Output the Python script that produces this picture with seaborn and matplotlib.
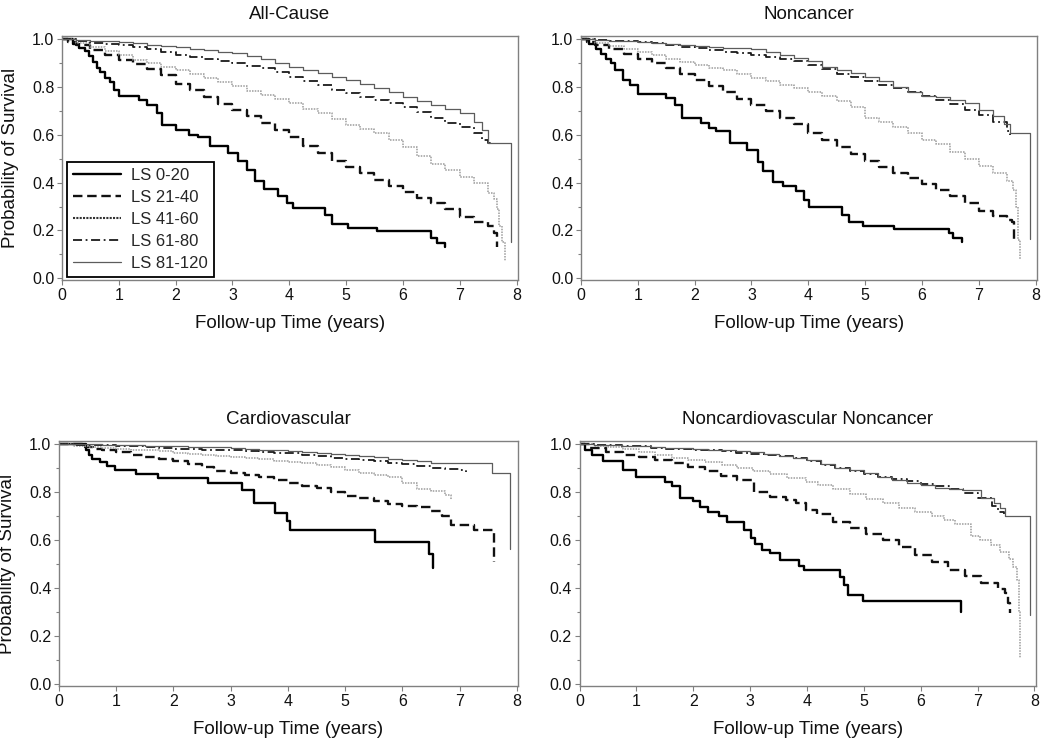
import matplotlib
matplotlib.use("Agg")
import matplotlib.pyplot as plt
import seaborn as sns
import pandas as pd
from matplotlib.lines import Line2D

# ---------------- data ----------------
groups = ["LS 0-20", "LS 21-40", "LS 41-60", "LS 61-80", "LS 81-120"]
panel_titles = ["All-Cause", "Noncancer", "Cardiovascular", "Noncardiovascular Noncancer"]
x_ticks = [0, 1, 2, 3, 4, 5, 6, 7, 8]
y_ticks = [0.0, 0.2, 0.4, 0.6, 0.8, 1.0]
y_tick_labels = ["0.0", "0.2", "0.4", "0.6", "0.8", "1.0"]

quarter_years = [0.0, 0.25, 0.5, 0.75, 1.0, 1.25, 1.5, 1.75, 2.0, 2.25, 2.5, 2.75, 3.0, 3.25,
                 3.5, 3.75, 4.0, 4.25, 4.5, 4.75, 5.0, 5.25, 5.5, 5.75, 6.0, 6.25, 6.5, 6.75,
                 7.0, 7.25, 7.5]

# All-Cause
ac_t_0_20 = [0, 0.2, 0.3, 0.4, 0.47, 0.55, 0.62, 0.67, 0.76, 0.85, 0.92, 1.0, 1.35, 1.5, 1.67,
             1.76, 2.0, 2.23, 2.4, 2.6, 2.93, 3.1, 3.25, 3.4, 3.55, 3.81, 3.96, 4.07, 4.63, 4.75,
             5.04, 5.54, 6.5, 6.6, 6.74]
ac_s_0_20 = [1.0, 0.98, 0.965, 0.95, 0.93, 0.905, 0.88, 0.865, 0.84, 0.82, 0.79, 0.763, 0.745,
             0.725, 0.69, 0.64, 0.62, 0.60, 0.59, 0.555, 0.523, 0.49, 0.453, 0.405, 0.372, 0.342,
             0.314, 0.293, 0.265, 0.227, 0.212, 0.198, 0.167, 0.149, 0.132]
ac_t_21_40 = [0, 0.1, 0.25, 0.5, 0.75, 1.0, 1.25, 1.5, 1.75, 2.0, 2.25, 2.5, 2.75, 3.0, 3.25, 3.5,
              3.75, 4.0, 4.25, 4.5, 4.75, 5.0, 5.25, 5.5, 5.75, 6.0, 6.25, 6.5, 6.75, 7.0, 7.25,
              7.5, 7.6, 7.65]
ac_s_21_40 = [1.0, 0.99, 0.975, 0.955, 0.935, 0.915, 0.895, 0.875, 0.85, 0.815, 0.79, 0.76, 0.73,
              0.705, 0.68, 0.65, 0.62, 0.59, 0.555, 0.525, 0.49, 0.465, 0.44, 0.41, 0.385, 0.36,
              0.335, 0.315, 0.29, 0.255, 0.235, 0.22, 0.19, 0.13]
ac_t_41_60 = quarter_years[:31] + [7.6, 7.65, 7.7, 7.75, 7.79]
ac_s_41_60 = [1.0, 0.985, 0.97, 0.95, 0.934, 0.915, 0.9, 0.885, 0.872, 0.855, 0.84, 0.82, 0.805,
              0.785, 0.767, 0.75, 0.732, 0.71, 0.69, 0.665, 0.64, 0.625, 0.607, 0.58, 0.55, 0.51,
              0.48, 0.455, 0.425, 0.40, 0.355, 0.33, 0.29, 0.22, 0.15, 0.07]
ac_t_61_80 = quarter_years[:30] + [7.4, 7.5, 7.56]
ac_s_61_80 = [1.0, 0.993, 0.986, 0.98, 0.976, 0.967, 0.958, 0.946, 0.934, 0.927, 0.92, 0.91, 0.9,
              0.89, 0.879, 0.862, 0.844, 0.826, 0.809, 0.79, 0.774, 0.76, 0.746, 0.732, 0.718,
              0.695, 0.669, 0.65, 0.635, 0.61, 0.58, 0.565, 0.558]
ac_t_81_120 = quarter_years[:30] + [7.4, 7.5, 7.9, 7.91]
ac_s_81_120 = [1.0, 0.997, 0.994, 0.992, 0.99, 0.983, 0.976, 0.971, 0.967, 0.961, 0.955, 0.948,
               0.941, 0.93, 0.916, 0.9, 0.886, 0.872, 0.858, 0.844, 0.83, 0.812, 0.795, 0.778,
               0.76, 0.742, 0.725, 0.708, 0.69, 0.655, 0.62, 0.565, 0.565, 0.15]

# Noncancer
nc_t_0_20 = [0, 0.15, 0.27, 0.35, 0.44, 0.52, 0.6, 0.74, 0.86, 1.0, 1.5, 1.65, 1.77, 2.12, 2.26,
             2.38, 2.63, 2.93, 3.11, 3.2, 3.38, 3.55, 3.79, 3.92, 4.02, 4.6, 4.71, 4.97, 5.51,
             6.47, 6.54, 6.71]
nc_s_0_20 = [1.0, 0.98, 0.96, 0.94, 0.92, 0.9, 0.872, 0.83, 0.81, 0.77, 0.753, 0.725, 0.67, 0.649,
             0.628, 0.618, 0.568, 0.537, 0.488, 0.45, 0.404, 0.386, 0.363, 0.328, 0.30, 0.265,
             0.237, 0.22, 0.205, 0.188, 0.167, 0.15]
nc_t_21_40 = [0, 0.1, 0.25, 0.5, 0.75, 1.0, 1.25, 1.5, 1.75, 2.0, 2.25, 2.5, 2.75, 3.0, 3.25, 3.5,
              3.75, 4.0, 4.25, 4.5, 4.75, 5.0, 5.25, 5.5, 5.75, 6.0, 6.25, 6.5, 6.75, 7.0, 7.25,
              7.5, 7.58, 7.62]
nc_s_21_40 = [1.0, 0.99, 0.975, 0.958, 0.938, 0.92, 0.9, 0.88, 0.855, 0.828, 0.805, 0.778, 0.752,
              0.725, 0.7, 0.672, 0.645, 0.608, 0.58, 0.548, 0.52, 0.49, 0.465, 0.44, 0.418, 0.393,
              0.37, 0.342, 0.315, 0.28, 0.262, 0.245, 0.237, 0.155]
nc_t_41_60 = quarter_years[:31] + [7.6, 7.65, 7.7, 7.73]
nc_s_41_60 = [1.0, 0.985, 0.972, 0.96, 0.948, 0.934, 0.92, 0.906, 0.893, 0.882, 0.872, 0.855,
              0.84, 0.825, 0.81, 0.795, 0.78, 0.762, 0.74, 0.715, 0.672, 0.652, 0.632, 0.61, 0.58,
              0.56, 0.53, 0.5, 0.47, 0.44, 0.405, 0.37, 0.3, 0.16, 0.08]
nc_t_61_80 = quarter_years[:31] + [7.55]
nc_s_61_80 = [1.0, 0.997, 0.994, 0.992, 0.99, 0.983, 0.976, 0.969, 0.962, 0.955, 0.948, 0.941,
              0.934, 0.927, 0.92, 0.908, 0.893, 0.875, 0.856, 0.842, 0.826, 0.81, 0.795, 0.78,
              0.762, 0.748, 0.728, 0.705, 0.685, 0.655, 0.618, 0.6]
nc_t_81_120 = quarter_years[:30] + [7.45, 7.55, 7.88, 7.9]
nc_s_81_120 = [1.0, 0.998, 0.995, 0.993, 0.99, 0.985, 0.979, 0.975, 0.972, 0.968, 0.965, 0.962,
               0.958, 0.948, 0.934, 0.922, 0.91, 0.885, 0.872, 0.858, 0.844, 0.825, 0.8, 0.78,
               0.765, 0.757, 0.748, 0.732, 0.705, 0.68, 0.645, 0.61, 0.61, 0.163]

# Cardiovascular
cv_t_0_20 = [0, 0.47, 0.52, 0.57, 0.71, 0.83, 0.97, 1.34, 1.73, 2.6, 3.2, 3.4, 3.77, 3.99, 4.03,
             5.52, 6.47, 6.54]
cv_s_0_20 = [1.0, 0.978, 0.955, 0.94, 0.925, 0.91, 0.895, 0.878, 0.862, 0.838, 0.812, 0.754,
             0.715, 0.68, 0.642, 0.595, 0.544, 0.486]
cv_t_21_40 = [0, 0.45, 0.6, 0.75, 1.0, 1.25, 1.5, 1.75, 2.0, 2.25, 2.5, 2.7, 3.0, 3.25, 3.5, 3.75,
              4.0, 4.25, 4.5, 4.75, 5.0, 5.25, 5.5, 5.75, 6.0, 6.25, 6.5, 6.7, 6.85, 7.25, 7.58,
              7.6]
cv_s_21_40 = [1.0, 0.99, 0.983, 0.975, 0.968, 0.958, 0.948, 0.94, 0.93, 0.918, 0.905, 0.888,
              0.88, 0.872, 0.864, 0.85, 0.838, 0.828, 0.818, 0.8, 0.786, 0.775, 0.765, 0.752,
              0.745, 0.74, 0.722, 0.7, 0.664, 0.643, 0.643, 0.508]
cv_t_41_60 = quarter_years[:28] + [6.85]
cv_s_41_60 = [1.0, 0.995, 0.99, 0.986, 0.983, 0.979, 0.976, 0.971, 0.966, 0.962, 0.958, 0.953,
              0.948, 0.943, 0.938, 0.933, 0.928, 0.923, 0.915, 0.905, 0.895, 0.882, 0.872, 0.866,
              0.84, 0.815, 0.804, 0.79, 0.768]
cv_t_61_80 = quarter_years[:29] + [7.12]
cv_s_61_80 = [1.0, 0.999, 0.997, 0.996, 0.994, 0.992, 0.989, 0.986, 0.983, 0.981, 0.979, 0.977,
              0.975, 0.972, 0.969, 0.966, 0.963, 0.958, 0.952, 0.945, 0.938, 0.934, 0.93, 0.924,
              0.918, 0.912, 0.903, 0.898, 0.893, 0.884]
cv_t_81_120 = quarter_years[:31] + [7.57, 7.87, 7.88]
cv_s_81_120 = [1.0, 1.0, 1.0, 0.999, 0.997, 0.996, 0.994, 0.993, 0.992, 0.99, 0.989, 0.988, 0.986,
               0.983, 0.979, 0.975, 0.972, 0.968, 0.965, 0.96, 0.958, 0.951, 0.947, 0.94, 0.935,
               0.93, 0.923, 0.923, 0.922, 0.922, 0.922, 0.88, 0.88, 0.565]

# Noncardiovascular Noncancer
nn_t_0_20 = [0, 0.1, 0.21, 0.41, 0.76, 0.99, 1.51, 1.62, 1.76, 1.99, 2.11, 2.25, 2.45, 2.6, 2.89,
             3.02, 3.09, 3.2, 3.34, 3.52, 3.86, 3.95, 4.58, 4.65, 4.72, 4.98, 6.71]
nn_s_0_20 = [1.0, 0.975, 0.957, 0.932, 0.895, 0.866, 0.845, 0.825, 0.778, 0.762, 0.741, 0.72,
             0.70, 0.678, 0.643, 0.61, 0.585, 0.56, 0.546, 0.518, 0.494, 0.474, 0.448, 0.414,
             0.372, 0.347, 0.302]
nn_t_21_40 = [0, 0.18, 0.47, 0.76, 1.05, 1.33, 1.62, 1.91, 2.2, 2.48, 2.77, 3.06, 3.34, 3.63, 3.8,
              3.98, 4.17, 4.46, 4.75, 5.04, 5.33, 5.62, 5.9, 6.19, 6.48, 6.77, 7.06, 7.35, 7.49,
              7.54, 7.57]
nn_s_21_40 = [1.0, 0.985, 0.97, 0.957, 0.948, 0.936, 0.922, 0.906, 0.89, 0.868, 0.85, 0.8, 0.782,
              0.768, 0.755, 0.725, 0.708, 0.678, 0.652, 0.628, 0.6, 0.574, 0.54, 0.51, 0.478,
              0.452, 0.42, 0.395, 0.38, 0.34, 0.295]
nn_t_41_60 = [0, 0.25, 0.5, 0.76, 1.05, 1.33, 1.62, 1.9, 2.2, 2.5, 2.77, 3.05, 3.34, 3.65, 3.98,
              4.2, 4.46, 4.75, 5.04, 5.33, 5.62, 5.9, 6.19, 6.4, 6.6, 6.89, 7.05, 7.23, 7.4, 7.55,
              7.63, 7.69, 7.72, 7.74]
nn_s_41_60 = [1.0, 0.993, 0.988, 0.982, 0.97, 0.957, 0.943, 0.935, 0.927, 0.915, 0.901, 0.89,
              0.878, 0.86, 0.842, 0.83, 0.815, 0.795, 0.773, 0.755, 0.734, 0.717, 0.7, 0.685,
              0.668, 0.618, 0.6, 0.58, 0.553, 0.52, 0.49, 0.435, 0.3, 0.107]
nn_t_61_80 = quarter_years[:30] + [7.35, 7.47]
nn_s_61_80 = [1.0, 0.998, 0.996, 0.994, 0.992, 0.987, 0.982, 0.98, 0.978, 0.975, 0.971, 0.966,
              0.961, 0.956, 0.95, 0.942, 0.933, 0.915, 0.9, 0.89, 0.878, 0.866, 0.856, 0.846,
              0.836, 0.828, 0.815, 0.798, 0.776, 0.745, 0.72, 0.708]
nn_t_81_120 = quarter_years[:29] + [7.06, 7.29, 7.4, 7.49, 7.9, 7.92]
nn_s_81_120 = [1.0, 0.998, 0.996, 0.994, 0.992, 0.989, 0.986, 0.984, 0.982, 0.978, 0.975, 0.972,
               0.968, 0.96, 0.95, 0.942, 0.936, 0.92, 0.902, 0.892, 0.88, 0.866, 0.852, 0.84,
               0.829, 0.82, 0.815, 0.81, 0.81, 0.776, 0.755, 0.734, 0.70, 0.70, 0.29]

panel_series = [
    [(ac_t_0_20, ac_s_0_20), (ac_t_21_40, ac_s_21_40), (ac_t_41_60, ac_s_41_60),
     (ac_t_61_80, ac_s_61_80), (ac_t_81_120, ac_s_81_120)],
    [(nc_t_0_20, nc_s_0_20), (nc_t_21_40, nc_s_21_40), (nc_t_41_60, nc_s_41_60),
     (nc_t_61_80, nc_s_61_80), (nc_t_81_120, nc_s_81_120)],
    [(cv_t_0_20, cv_s_0_20), (cv_t_21_40, cv_s_21_40), (cv_t_41_60, cv_s_41_60),
     (cv_t_61_80, cv_s_61_80), (cv_t_81_120, cv_s_81_120)],
    [(nn_t_0_20, nn_s_0_20), (nn_t_21_40, nn_s_21_40), (nn_t_41_60, nn_s_41_60),
     (nn_t_61_80, nn_s_61_80), (nn_t_81_120, nn_s_81_120)],
]

# ---------------- styling ----------------
line_styles = {
    "LS 0-20": dict(color="#000000", linewidth=1.7, linestyle="-"),
    "LS 21-40": dict(color="#111111", linewidth=1.7, linestyle=(0, (4, 2))),
    "LS 41-60": dict(color="#9c9c9c", linewidth=1.1, linestyle=(0, (1, 0.8))),
    "LS 61-80": dict(color="#1a1a1a", linewidth=1.3, linestyle=(0, (5, 2, 1, 2))),
    "LS 81-120": dict(color="#5c5c5c", linewidth=0.9, linestyle="-"),
}
legend_styles = dict(line_styles)
legend_styles["LS 41-60"] = dict(color="#333333", linewidth=1.5, linestyle=(0, (1, 0.6)))

sns.set_theme(style="white")
plt.rcParams["font.family"] = ["Liberation Sans", "DejaVu Sans"]

fig = plt.figure(figsize=(10.5, 7.42), dpi=100)
axes_pos = [
    [0.059, 0.6226, 0.434, 0.3288],
    [0.5533, 0.6226, 0.434, 0.3288],
    [0.0562, 0.0755, 0.4371, 0.330],
    [0.552, 0.0755, 0.4343, 0.330],
]
frame_color = "#808080"

for i, (pos, title, series) in enumerate(zip(axes_pos, panel_titles, panel_series)):
    ax = fig.add_axes(pos)
    for g, (t, s) in zip(groups, series):
        df = pd.DataFrame({"time": t, "surv": s})
        sns.lineplot(data=df, x="time", y="surv", ax=ax, estimator=None, sort=False,
                     drawstyle="steps-post", legend=False, **line_styles[g])
    if ax.get_legend() is not None:
        ax.get_legend().remove()
    ax.set_xlim(0, 8.02)
    ax.set_ylim(-0.008, 1.014)
    ax.set_xticks(x_ticks)
    ax.set_xticklabels([str(v) for v in x_ticks])
    ax.set_yticks(y_ticks)
    ax.set_yticklabels(y_tick_labels)
    ax.set_yticks([0.1, 0.3, 0.5, 0.7, 0.9], minor=True)
    ax.tick_params(axis="both", which="both", direction="out", bottom=True, left=True,
                   color=frame_color, width=0.8, labelcolor="#111111")
    ax.tick_params(axis="both", which="major", length=3.5, labelsize=11.5, pad=2)
    ax.tick_params(axis="y", which="minor", length=2.5)
    for sp in ax.spines.values():
        sp.set_color(frame_color)
        sp.set_linewidth(1.0)
    ax.set_title(title, fontsize=13.5, pad=12, color="#111111")
    ax.set_xlabel("Follow-up Time (years)", fontsize=13.5, labelpad=9, color="#111111")
    if i in (0, 2):
        ax.set_ylabel("Probability of Survival", fontsize=13.5, color="#111111")
        ax.yaxis.set_label_coords(-0.094, 0.5)
    else:
        ax.set_ylabel("")
    if i == 0:
        handles = [Line2D([0], [0], **legend_styles[g]) for g in groups]
        leg = ax.legend(handles, groups, loc="lower left", bbox_to_anchor=(0.011, 0.012),
                        borderaxespad=0, frameon=True, fancybox=False, edgecolor="black",
                        fontsize=12, handlelength=2.9, handletextpad=0.6, labelspacing=0.42,
                        borderpad=0.35, framealpha=1)
        leg.get_frame().set_linewidth(1.3)

fig.savefig("out.png", dpi=100)
